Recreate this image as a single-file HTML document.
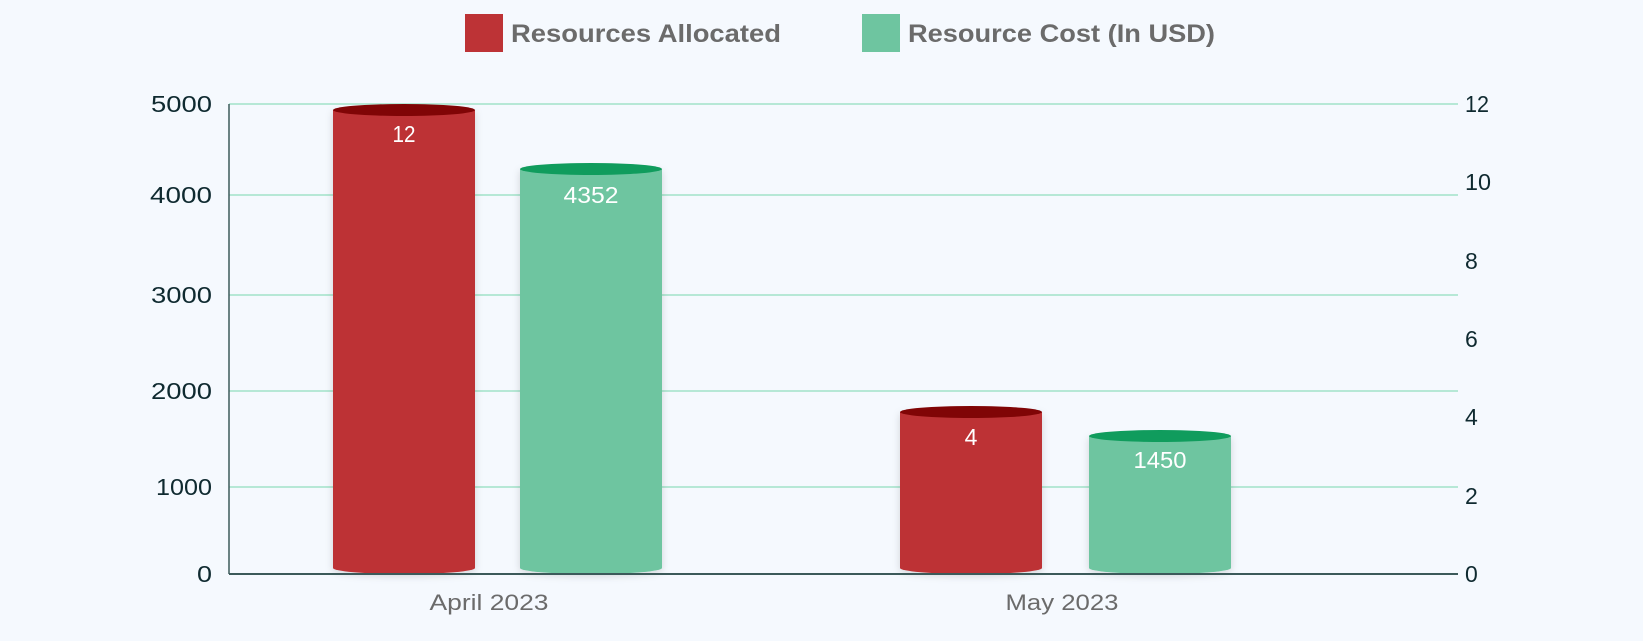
<!DOCTYPE html>
<html><head><meta charset="utf-8"><style>
html,body{margin:0;padding:0;background:#f5f9fe;}
svg{display:block;font-family:"Liberation Sans",sans-serif;}
</style></head><body>
<svg width="1643" height="641" viewBox="0 0 1643 641">
<defs>
<filter id="sh" x="-20%" y="-10%" width="140%" height="120%"><feDropShadow dx="0" dy="2" stdDeviation="4" flood-color="#000" flood-opacity="0.15"/></filter>
</defs>
<rect width="1643" height="641" fill="#f5f9fe"/>
<!-- legend -->
<rect x="465" y="14" width="38" height="38" fill="#bd3336"/>
<text x="511" y="42" font-size="25" font-weight="bold" fill="#6b6b6b" textLength="270" lengthAdjust="spacingAndGlyphs">Resources Allocated</text>
<rect x="862" y="14" width="38" height="38" fill="#6ec5a0"/>
<text x="908" y="42" font-size="25" font-weight="bold" fill="#6b6b6b" textLength="307" lengthAdjust="spacingAndGlyphs">Resource Cost (In USD)</text>
<!-- grid -->
<g stroke="#b6e8d6" stroke-width="2">
<line x1="229" y1="104" x2="1458" y2="104"/>
<line x1="229" y1="195" x2="1458" y2="195"/>
<line x1="229" y1="295" x2="1458" y2="295"/>
<line x1="229" y1="391" x2="1458" y2="391"/>
<line x1="229" y1="487" x2="1458" y2="487"/>
</g>
<line x1="229" y1="104" x2="229" y2="574" stroke="#3c5a5a" stroke-width="1.5"/>
<!-- left labels -->
<g font-size="23" fill="#0f2a30" text-anchor="end">
<text x="212" y="112" textLength="61" lengthAdjust="spacingAndGlyphs">5000</text>
<text x="212" y="203" textLength="62" lengthAdjust="spacingAndGlyphs">4000</text>
<text x="212" y="303" textLength="61" lengthAdjust="spacingAndGlyphs">3000</text>
<text x="212" y="399" textLength="61" lengthAdjust="spacingAndGlyphs">2000</text>
<text x="212" y="495" textLength="56" lengthAdjust="spacingAndGlyphs">1000</text>
<text x="212" y="582" textLength="15" lengthAdjust="spacingAndGlyphs">0</text>
</g>
<g font-size="23" fill="#0f2a30">
<text x="1465" y="112" textLength="24" lengthAdjust="spacingAndGlyphs">12</text>
<text x="1465" y="190" textLength="26" lengthAdjust="spacingAndGlyphs">10</text>
<text x="1465" y="269">8</text>
<text x="1465" y="347">6</text>
<text x="1465" y="425">4</text>
<text x="1465" y="504">2</text>
<text x="1465" y="582">0</text>
</g>
<!-- bars -->
<g filter="url(#sh)">
<path d="M333 110 L333 568 A71 6 0 0 0 475 568 L475 110 Z" fill="#bd3336"/>
<path d="M520 169 L520 568 A71 6 0 0 0 662 568 L662 169 Z" fill="#6ec5a0"/>
<path d="M900 412 L900 568 A71 6 0 0 0 1042 568 L1042 412 Z" fill="#bd3336"/>
<path d="M1089 436 L1089 568 A71 6 0 0 0 1231 568 L1231 436 Z" fill="#6ec5a0"/>
</g>
<ellipse cx="404" cy="110" rx="71" ry="6" fill="#800506"/>
<ellipse cx="591" cy="169" rx="71" ry="6" fill="#109c5d"/>
<ellipse cx="971" cy="412" rx="71" ry="6" fill="#800506"/>
<ellipse cx="1160" cy="436" rx="71" ry="6" fill="#109c5d"/>
<line x1="229" y1="574" x2="1458" y2="574" stroke="#3c5a5a" stroke-width="2"/>
<g font-size="23" fill="#fff" text-anchor="middle">
<text x="404" y="142" textLength="23" lengthAdjust="spacingAndGlyphs">12</text>
<text x="591" y="203" textLength="55" lengthAdjust="spacingAndGlyphs">4352</text>
<text x="971" y="445">4</text>
<text x="1160" y="468" textLength="53" lengthAdjust="spacingAndGlyphs">1450</text>
</g>
<g font-size="22" fill="#6b6b6b" text-anchor="middle">
<text x="489" y="610" textLength="119" lengthAdjust="spacingAndGlyphs">April 2023</text>
<text x="1062" y="610" textLength="113" lengthAdjust="spacingAndGlyphs">May 2023</text>
</g>
</svg>
</body></html>
